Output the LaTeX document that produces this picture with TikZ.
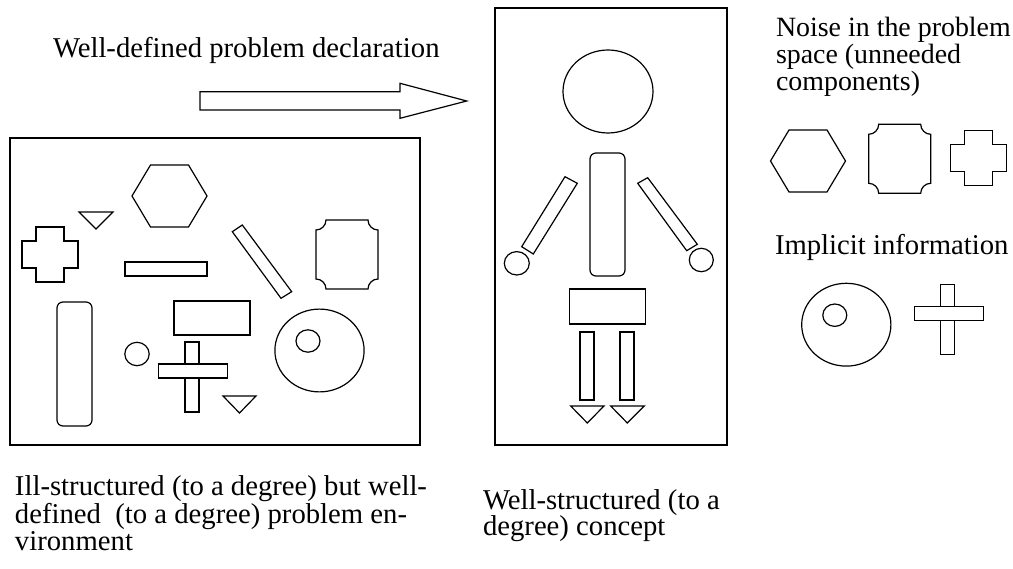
\documentclass[tikz,border=0pt]{standalone}
\usepackage{fontspec}
\setmainfont{Liberation Serif}
\begin{document}
\begin{tikzpicture}[x=1pt,y=-1pt,
  shp/.style={draw=black,line width=1.2pt,line join=miter,fill=white},
  frame/.style={draw=black,line width=1.6pt},
  lbl/.style={anchor=base west,inner sep=0pt,outer sep=0pt,font=\fontsize{28.7}{27}\selectfont},
  lblsm/.style={lbl,font=\fontsize{27.9}{27}\selectfont},
  hexa/.pic={\draw[shp] (-37.5,0) -- (-19,-31) -- (19,-31) -- (37.5,0) -- (19,31) -- (-19,31) -- cycle;},
  notchsq/.pic={\draw[shp] (-21,-34.5) -- (21,-34.5)
      .. controls (21,-29) and (25.5,-24.5) .. (31,-24.5) -- (31,24.5)
      .. controls (25.5,24.5) and (21,29) .. (21,34.5) -- (-21,34.5)
      .. controls (-21,29) and (-25.5,24.5) .. (-31,24.5) -- (-31,-24.5)
      .. controls (-25.5,-24.5) and (-21,-29) .. cycle;},
  blockcross/.pic={\draw[shp] (-14,-27.5) -- (14,-27.5) -- (14,-13.5) -- (28,-13.5) -- (28,13.5) -- (14,13.5)
      -- (14,27.5) -- (-14,27.5) -- (-14,13.5) -- (-28,13.5) -- (-28,-13.5) -- (-14,-13.5) -- cycle;},
  thinplus/.pic={\draw[shp] (-7,-35) rectangle (7,35);
      \draw[shp] (-33.5,-13) rectangle (35.5,1);},
  eyeball/.pic={\draw[shp] (0,0) ellipse [x radius=44.6pt, y radius=41.4pt];
      \draw[shp] (-11.5,-9.5) ellipse [x radius=12pt, y radius=11.2pt];}
]
\useasboundingbox (0,0) rectangle (1013,569);

% ---------- left box ----------
\draw[frame] (10,138) rectangle (420,445);
\pic at (169.5,196) {hexa};
\draw[shp] (79,212) -- (113,212) -- (96,229) -- cycle;
\pic at (50,254.5) {blockcross};
\draw[shp] (125,262) rectangle (207,276);
\draw[shp] (232.3,231.7) -- (242.3,225) -- (291.7,291.7) -- (281,298.3) -- cycle;
\pic at (347,254.5) {notchsq};
\draw[shp, rounded corners=6pt] (57,302) rectangle (92,426);
\draw[shp] (174,301) rectangle (250,335);
\draw[shp] (137,354) ellipse [x radius=12.2pt, y radius=11.7pt];
\pic at (192,377) {thinplus};
\draw[shp] (223,396) -- (256,396) -- (239.5,413) -- cycle;
\pic at (319.5,350.5) {eyeball};

% ---------- arrow ----------
\draw[shp] (200,91.7) -- (400,91.7) -- (400,83.3) -- (466.7,101) -- (400,118.3) -- (400,110) -- (200,110) -- cycle;

% ---------- middle box ----------
\draw[frame] (495,8) rectangle (727,445);
\draw[shp] (608,91.5) ellipse [x radius=45pt, y radius=41.5pt];
\draw[shp, rounded corners=6pt] (590,153) rectangle (625,276);
\draw[shp] (521.7,246.7) -- (565,176.7) -- (577.3,183.3) -- (533.3,254) -- cycle;
\draw[shp] (637.7,183.3) -- (647.7,177.7) -- (697.3,244.3) -- (686.7,250.7) -- cycle;
\draw[shp] (516.8,263.3) ellipse [x radius=12.5pt, y radius=11.7pt];
\draw[shp] (701.3,260) ellipse [x radius=12pt, y radius=11.7pt];
\draw[shp] (569.3,289) rectangle (645.7,324);
\draw[shp] (580,332) rectangle (594,400);
\draw[shp] (620,332) rectangle (634,400);
\draw[shp] (570.7,406) -- (604,406) -- (587.3,423) -- cycle;
\draw[shp] (610.7,406) -- (644.3,406) -- (627.3,423) -- cycle;

% ---------- right side ----------
\pic at (808,161) {hexa};
\pic at (899.7,158.8) {notchsq};
\pic at (978.7,157.8) {blockcross};
\pic at (846.3,324.7) {eyeball};
\pic at (947.7,319.5) {thinplus};

% ---------- texts ----------
\node[lbl] (t1) at (53,58) {Well-defined problem declaration};
\node[lblsm] (n1) at (776,37) {Noise in the problem};
\node[lblsm] (n2) at (776,64) {space (unneeded};
\node[lblsm] (n3) at (776,91) {components)};
\node[lbl] (imp) at (775,255) {Implicit information};
\node[lbl] (b1) at (15,496) {Ill-structured (to a degree) but well-};
\node[lbl] (b2) at (15,523) {defined\ \ (to a degree) problem en-};
\node[lbl] (b3) at (15,550) {vironment};
\node[lbl] (m1) at (483,509) {Well-structured (to a};
\node[lbl] (m2) at (483,535) {degree) concept};
\end{tikzpicture}
\end{document}
